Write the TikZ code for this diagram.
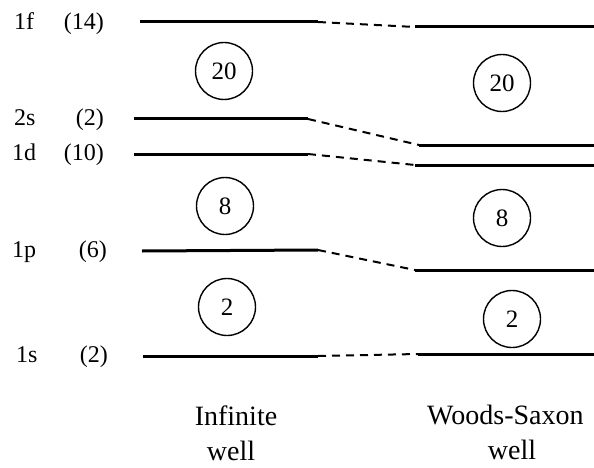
\documentclass[tikz,border=0pt]{standalone}
\usepackage{fontspec}
\setmainfont{Liberation Serif}
\begin{document}
\begin{tikzpicture}[x=1pt,y=-1pt,
  level/.style={line width=3pt},
  link/.style={line width=2pt, dash pattern=on 8pt off 6pt},
  magic/.style={circle, draw, line width=1.4pt, minimum size=57pt, inner sep=0pt, font=\fontsize{25}{25}\selectfont},
  orb/.style={anchor=mid west, inner sep=0pt, font=\fontsize{24}{24}\selectfont},
  deg/.style={anchor=mid east, inner sep=0pt, font=\fontsize{24}{24}\selectfont},
  welltext/.style={inner sep=0pt, font=\fontsize{28}{28}\selectfont}]
\useasboundingbox (0,0) rectangle (594,468);
% left levels
\coordinate (L1fa) at (140,22);  \coordinate (L1fb) at (318,22);
\coordinate (L2sa) at (134,119); \coordinate (L2sb) at (308,119);
\coordinate (L1da) at (134,154); \coordinate (L1db) at (308,154);
\coordinate (L1pa) at (142,251); \coordinate (L1pb) at (318,250);
\coordinate (L1sa) at (143,356); \coordinate (L1sb) at (318,356);
% right levels
\coordinate (R1fa) at (415,27);  \coordinate (R1fb) at (594,27);
\coordinate (R2sa) at (419,145); \coordinate (R2sb) at (594,145);
\coordinate (R1da) at (415,165); \coordinate (R1db) at (594,165);
\coordinate (R1pa) at (415,270); \coordinate (R1pb) at (594,270);
\coordinate (R1sa) at (418,354); \coordinate (R1sb) at (594,354);
\foreach \s in {1f,2s,1d,1p,1s}{
  \draw[level] (L\s a) -- (L\s b);
  \draw[level] (R\s a) -- (R\s b);
  \draw[link] (L\s b) -- (R\s a);
}
% labels
\node[orb] (n1f) at (14,27) {1f};
\node[orb] (n2s) at (14,123) {2s};
\node[orb] (n1d) at (12,158) {1d};
\node[orb] (n1p) at (12,255) {1p};
\node[orb] (n1s) at (16,360) {1s};
\node[deg] (d1f) at (104,27) {(14)};
\node[deg] (d2s) at (104,123) {(2)};
\node[deg] (d1d) at (104,158) {(10)};
\node[deg] (d1p) at (107,255) {(6)};
\node[deg] (d1s) at (108,360) {(2)};
% magic numbers
\node[magic] (m20l) at (224,71) {20};
\node[magic] (m20r) at (502,83) {20};
\node[magic] (m8l) at (225,206) {8};
\node[magic] (m8r) at (502,218) {8};
\node[magic] (m2l) at (227,307) {2};
\node[magic] (m2r) at (512,319) {2};
% captions
\node[welltext] (inf) at (236,416) {Infinite};
\node[welltext] (infw) at (231,451) {well};
\node[welltext, anchor=west] (ws) at (427,415) {Woods-Saxon};
\node[welltext] (wsw) at (512,450) {well};
\end{tikzpicture}
\end{document}
